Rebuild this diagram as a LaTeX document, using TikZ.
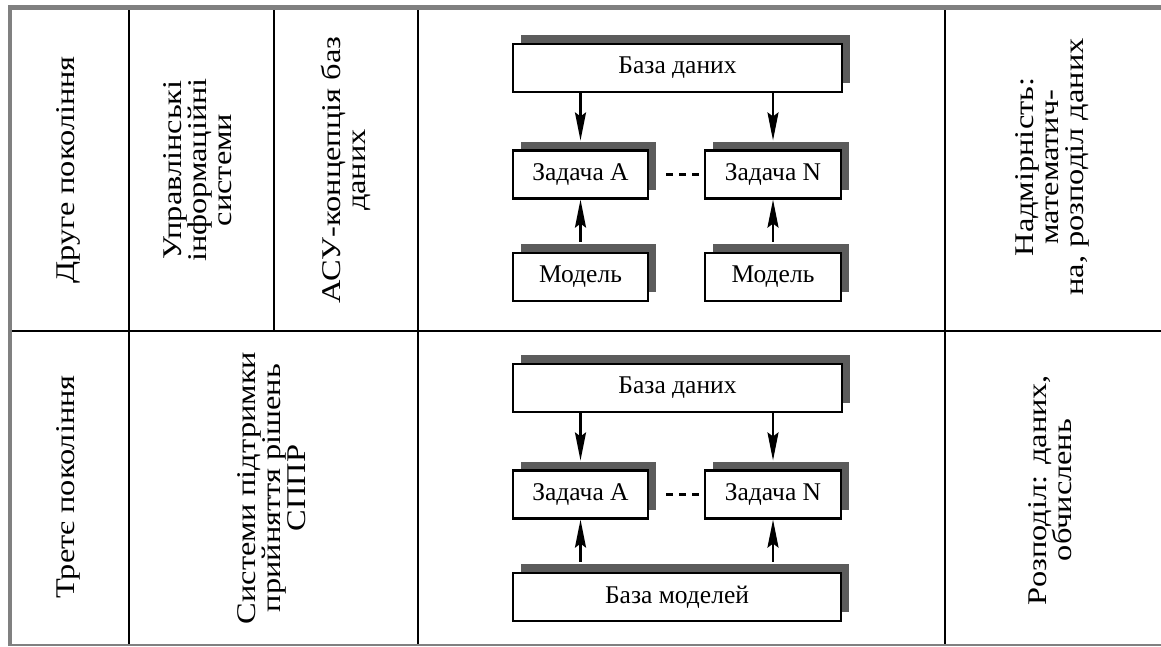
\documentclass[tikz,border=0pt]{standalone}
\usepackage{fontspec}
\setmainfont{Liberation Serif}
\newfontfamily\widefont[FakeStretch=1.2]{Liberation Serif}
\usetikzlibrary{arrows.meta,positioning,shadows}
\definecolor{frame}{HTML}{808080}
\definecolor{tin}{HTML}{5C5C5C}
\begin{document}
\begin{tikzpicture}[x=1pt,y=-1pt,>={Stealth[length=28pt,width=11pt,inset=4pt]},
    blok/.style={draw,line width=2.2pt,fill=white,minimum height=48pt,inner sep=0pt,
      font=\fontsize{25.5}{28}\selectfont,
      general shadow={fill=tin,shadow xshift=8pt,shadow yshift=9pt}},
    vtxt/.style={rotate=90,align=center,inner sep=0pt,font=\widefont\fontsize{27}{25}\selectfont},
    rule/.style={line width=2.2pt},
    link/.style={->,line width=2.2pt},
    dots/.style={line width=3pt,dash pattern=on 7pt off 6pt}]
    \useasboundingbox (0,0) rectangle (1161,646);

    \draw[frame,line width=4.5pt] (8,7.5) -- (1161,7.5);
    \draw[frame,line width=3.5pt] (10,5) -- (10,646);
    \draw[frame,line width=1.5pt] (10,645) -- (1161,645);
    \draw[rule] (129,10) -- (129,644) (418,10) -- (418,644) (945,10) -- (945,644)
                (274,10) -- (274,331) (12,331) -- (1161,331);

    \node[vtxt] (g2) at (68,170)   {Друге покоління};
    \node[vtxt] (u2) at (198,170)  {Управлінські\\інформаційні\\системи};
    \node[vtxt] (k2) at (346,170)  {АСУ-концепція баз\\даних};
    \node[vtxt] (r2) at (1052,167) {Надмірність:\\математич-\\на, розподіл даних};
    \node[vtxt] (g3) at (68,487)   {Третє покоління};
    \node[vtxt] (u3) at (272,488)  {Системи підтримки\\прийняття рішень\\СППР};
    \node[vtxt] (r3) at (1050,490) {Розподіл: даних,\\обчислень};

    \node[blok,minimum width=329pt] (b1) at (677.5,68)  {База даних};
    \node[blok,minimum width=135pt] (a1) at (580.5,174.5) {Задача A};
    \node[blok,minimum width=136pt] (n1) at (773,174.5) {Задача N};
    \node[blok,minimum width=135pt] (ma1) [below=52pt of a1] {Модель};
    \node[blok,minimum width=136pt] (mn1) [below=52pt of n1] {Модель};

    \node[blok,minimum width=329pt] (b2) at (677.5,388)  {База даних};
    \node[blok,minimum width=135pt] (a2) at (580.5,494.5) {Задача A};
    \node[blok,minimum width=136pt] (n2) at (773,494.5) {Задача N};
    \node[blok,minimum width=328pt] (m2) at (677,597)   {База моделей};

    \draw[link,shorten >=9pt] (b1.south -| a1) -- (a1);
    \draw[link,shorten >=9pt] (b1.south -| n1) -- (n1);
    \draw[link,shorten <=10pt] (ma1) -- (a1);
    \draw[link,shorten <=10pt] (mn1) -- (n1);
    \draw[dots] ([xshift=17pt]a1.east) -- ([xshift=-4pt]n1.west);

    \draw[link,shorten >=9pt] (b2.south -| a2) -- (a2);
    \draw[link,shorten >=9pt] (b2.south -| n2) -- (n2);
    \draw[link,shorten <=10pt] (m2.north -| a2) -- (a2);
    \draw[link,shorten <=10pt] (m2.north -| n2) -- (n2);
    \draw[dots] ([xshift=17pt]a2.east) -- ([xshift=-4pt]n2.west);
\end{tikzpicture}
\end{document}
